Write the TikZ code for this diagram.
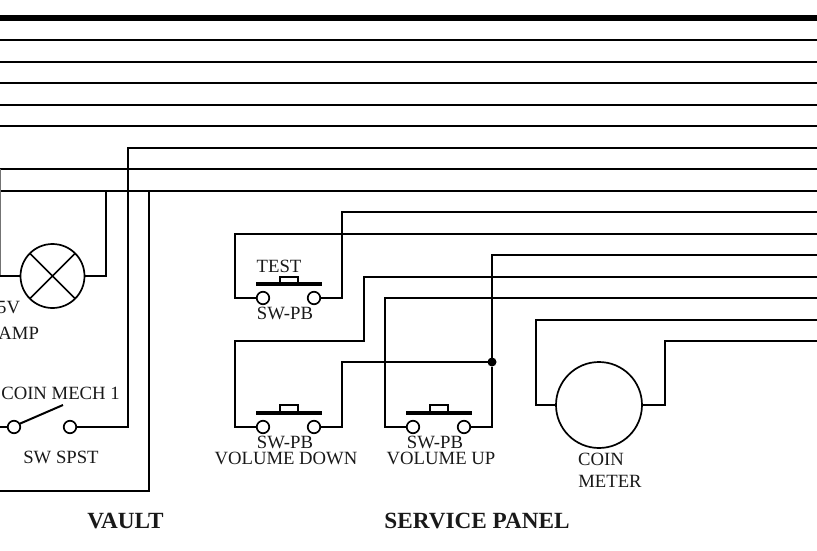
\documentclass[tikz,border=0pt]{standalone}
\usepackage{fontspec}
\setmainfont{Liberation Serif}
\tikzset{
  wire/.style={draw=black,line width=2pt,line join=miter},
  term/.style={circle,draw=black,line width=1.7pt,fill=white,minimum size=12.5pt,inner sep=0pt,outer sep=0pt},
  lbl/.style={inner sep=0pt,outer sep=0pt,font=\fontsize{18.7}{18.7}\selectfont,anchor=base,text=black!90},
  lblb/.style={lbl,font=\fontsize{23.2}{23.2}\selectfont\bfseries},
  lampc/.style={circle,draw=black,line width=1.7pt,minimum size=64pt,inner sep=0pt,outer sep=0pt},
  meterc/.style={circle,draw=black,line width=1.7pt,minimum size=86pt,inner sep=0pt,outer sep=0pt},
  pbar/.style={draw=black,line width=4pt},
  pcap/.style={draw=black,line width=1.7pt},
  jn/.style={circle,fill=black,minimum size=9pt,inner sep=0pt,outer sep=0pt}
}
\begin{document}
\begin{tikzpicture}[x=1pt,y=-1pt]
\useasboundingbox (0,0) rectangle (817,550);
% plain bus lines
\foreach \y in {40,62,83,105,126,169,191}{
  \draw[wire] (0,\y) -- (817,\y);
}
\draw[wire,line width=6pt] (0,18) -- (817,18);
% lamp
\node[lampc] (lamp) at (52.5,276) {};
\draw[line width=1.7pt] (lamp.45) -- (lamp.225) (lamp.135) -- (lamp.315);
\draw[wire,draw=black!55] (0,169) -- (0,276);
\draw[wire] (0,276) -- (lamp.west);
\draw[wire] (lamp.east) -- (106,276) -- (106,191);
% vault return
\coordinate (vtop) at (149,191);
\coordinate (vbot) at (0,491);
\draw[wire] (vtop) -- (149,491) -- (vbot);
% coin mech switch
\coordinate (s1in) at (0,427);
\draw[wire] (s1in) -- (14,427);
\node[term] (s1) at (14,427) {};
\draw[wire] (s1.30) -- (63,405);
\draw[wire] (70,427) -- (128,427) -- (128,148) -- (817,148);
\node[term] (s2) at (70,427) {};
% TEST switch
\draw[wire] (263,298) -- (235,298) -- (235,234) -- (817,234);
\draw[wire] (314,298) -- (342,298) -- (342,212) -- (817,212);
\node[term] (t1) at (263,298) {};
\node[term] (t2) at (314,298) {};
\draw[pbar] (256,284) -- (321.5,284);
\draw[pcap] (280,284) -- (280,277) -- (298,277) -- (298,284);
% volume down
\draw[wire] (263,427) -- (235,427) -- (235,341) -- (364,341) -- (364,277) -- (817,277);
\node[jn] (dot) at (492,362) {};
\draw[wire] (314,427) -- (342,427) -- (342,362) -- (dot);
\node[term] (d1) at (263,427) {};
\node[term] (d2) at (314,427) {};
\draw[pbar] (256,413) -- (321.5,413);
\draw[pcap] (280,413) -- (280,405) -- (298,405) -- (298,413);
% volume up
\draw[wire] (413,427) -- (385,427) -- (385,298) -- (817,298);
\draw[wire] (464,427) -- (492,427) -- (dot) -- (492,255) -- (817,255);
\node[term] (u1) at (413,427) {};
\node[term] (u2) at (464,427) {};
\draw[pbar] (406,413) -- (471.5,413);
\draw[pcap] (430,413) -- (430,405) -- (448,405) -- (448,413);
% coin meter
\node[meterc] (meter) at (599,405) {};
\draw[wire] (meter.west) -- (536,405) -- (536,320) -- (817,320);
\draw[wire] (meter.east) -- (665,405) -- (665,341) -- (817,341);
% labels
\node[lbl] (l5v) at (8.6,313) {5V};
\node[lbl] (lamp2) at (18.7,339) {AMP};
\node[lbl] (coin1) at (60.5,399) {COIN MECH 1};
\node[lbl] (spst) at (61,463) {SW SPST};
\node[lblb] (vault) at (125.5,528) {VAULT};
\node[lbl] (test) at (279,272) {TEST};
\node[lbl] (pb1) at (285,319) {SW-PB};
\node[lbl] (pb2) at (285,448) {SW-PB};
\node[lbl] (vd) at (286,464.5) {VOLUME DOWN};
\node[lbl] (pb3) at (435,448) {SW-PB};
\node[lbl] (vu) at (441,464.5) {VOLUME UP};
\node[lbl] (coin) at (601,465) {COIN};
\node[lbl] (met) at (610,487) {METER};
\node[lblb] (panel) at (477,528) {SERVICE PANEL};
\end{tikzpicture}
\end{document}
